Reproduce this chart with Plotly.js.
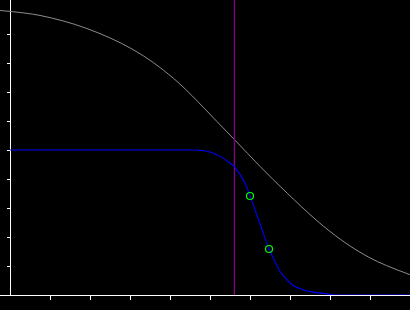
<!DOCTYPE html>
<html>
<head>
<meta charset="utf-8">
<script src="https://cdn.plot.ly/plotly-3.0.1.min.js"></script>
<style>html,body{margin:0;padding:0;background:#000;}#chart{width:410px;height:310px;}</style>
</head>
<body>
<div id="chart"></div>
<script>
// Grey (wide) response curve
const greyX = [-0.25, 0.75, 1.9, 3.08, 4.08, 5.33, 6.58, 8.0, 9.0, 10.0];
const greyY = [9.81, 9.64, 9.20, 8.46, 7.48, 5.76, 3.98, 2.19, 1.28, 0.70];
// Blue (steep) response curve
const blueX = [0, 2.0, 4.5, 4.75, 5.0, 5.25, 5.5, 5.61, 5.75, 5.875, 6.0, 6.24, 6.475, 6.58, 6.67, 6.75, 6.92, 7.08, 7.33, 7.58, 7.92, 8.15, 9.0, 10];
const blueY = [5, 5, 5, 4.99, 4.93, 4.78, 4.55, 4.43, 4.15, 3.86, 3.414, 2.5, 1.586, 1.28, 1.02, 0.81, 0.53, 0.33, 0.18, 0.10, 0.04, 0, 0, 0];
// Marked points on the blue curve
const markX = [6.0, 6.475];
const markY = [3.414, 1.586];
// Vertical cutoff line
const cutoffX = [5.61, 5.61];
const cutoffY = [0, 10.2];
// Tick positions
const xTicks = [1, 2, 3, 4, 5, 6, 7, 8, 9];
const yTicks = [1, 2, 3, 4, 5, 6, 7, 8, 9];

const traces = [
  {x: greyX, y: greyY, type: 'scatter', mode: 'lines', line: {color: '#8c8c8c', width: 1, shape: 'spline', smoothing: 1}, hoverinfo: 'skip'},
  {x: cutoffX, y: cutoffY, type: 'scatter', mode: 'lines', line: {color: '#860086', width: 1.3}, hoverinfo: 'skip'},
  {x: blueX, y: blueY, type: 'scatter', mode: 'lines', line: {color: '#0000ff', width: 1.1, shape: 'spline', smoothing: 0.8}, hoverinfo: 'skip'},
  {x: markX, y: markY, type: 'scatter', mode: 'markers', marker: {symbol: 'circle-open', size: 7, color: '#00ff00', line: {width: 1.2, color: '#00ff00'}}, hoverinfo: 'skip'}
];

const layout = {
  width: 410, height: 310,
  paper_bgcolor: '#000', plot_bgcolor: '#000',
  margin: {l: 0, r: 0, t: 0, b: 15, pad: 0},
  showlegend: false,
  xaxis: {range: [-0.25, 10], showgrid: false, zeroline: false, showline: true, linecolor: '#fff', linewidth: 1,
          ticks: 'outside', ticklen: 4, tickwidth: 1, tickcolor: '#fff', tickvals: xTicks, showticklabels: false, layer: 'below traces'},
  yaxis: {range: [0, 295/29], anchor: 'free', position: 0.25/10.25, showgrid: false, zeroline: false, showline: true,
          linecolor: '#fff', linewidth: 1, ticks: 'outside', ticklen: 3, tickwidth: 1, tickcolor: '#fff',
          tickvals: yTicks, showticklabels: false, layer: 'below traces'}
};

Plotly.newPlot('chart', traces, layout, {staticPlot: true, displayModeBar: false});
</script>
</body>
</html>
